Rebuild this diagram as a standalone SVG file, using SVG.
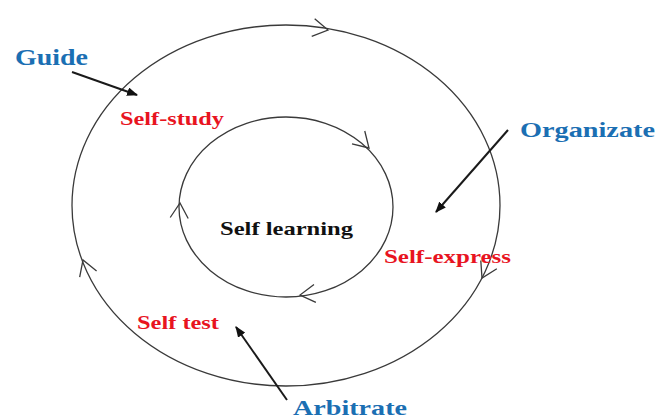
<svg xmlns="http://www.w3.org/2000/svg" xmlns:xlink="http://www.w3.org/1999/xlink" width="658" height="419" viewBox="0 0 658 419">
  <style>
    .ring { fill: none; stroke: #3a3a3a; stroke-width: 1.3; }
    .chev { fill: none; stroke: #3a3a3a; stroke-width: 1.3; stroke-linejoin: miter; }
    .ptr { fill: none; stroke: #1a1a1a; stroke-width: 2; marker-end: url(#head); }
    text { font-family: "Liberation Serif", "Times New Roman", serif; font-weight: bold; }
    .blue { fill: #1b6fb3; }
    .red { fill: #e8141f; }
    .black { fill: #111; }
  </style>
  <defs>
    <!-- open chevron pointing along +x, tip at origin -->
    <path id="chev" class="chev" d="M-15,-9 L0,0 L-15,9"/>
    <marker id="head" viewBox="0 0 10 8" refX="9" refY="4" markerWidth="5.5" markerHeight="4.5" orient="auto" markerUnits="strokeWidth">
      <path d="M0,0 L10,4 L0,8 Z" fill="#111"/>
    </marker>
  </defs>
  <rect width="658" height="419" fill="#fff"/>

  <g id="connectors">
    <!-- outer cycle -->
    <ellipse class="ring" cx="286" cy="205.5" rx="214" ry="180.5"/>
    <use xlink:href="#chev" transform="translate(328,30) rotate(9.5)"/>
    <use xlink:href="#chev" transform="translate(482,278) rotate(117)"/>
    <use xlink:href="#chev" transform="translate(83,260) rotate(-110)"/>
    <!-- inner cycle -->
    <ellipse class="ring" cx="286" cy="207" rx="107" ry="90"/>
    <use xlink:href="#chev" transform="translate(369,148) rotate(45)"/>
    <use xlink:href="#chev" transform="translate(300,295) rotate(174)"/>
    <use xlink:href="#chev" transform="translate(180,203) rotate(-87)"/>
    <!-- pointers -->
    <line class="ptr" x1="72" y1="72" x2="137" y2="95"/>
    <line class="ptr" x1="508" y1="130" x2="436" y2="212"/>
    <line class="ptr" x1="287" y1="400" x2="236" y2="327"/>
  </g>

  <g id="guide"><text class="blue" x="15" y="65" font-size="22.5" textLength="73" lengthAdjust="spacingAndGlyphs">Guide</text></g>
  <g id="self-study"><text class="red" x="120" y="125" font-size="19.5" textLength="104" lengthAdjust="spacingAndGlyphs">Self-study</text></g>
  <g id="organizate"><text class="blue" x="520" y="137" font-size="21.5" textLength="135" lengthAdjust="spacingAndGlyphs">Organizate</text></g>
  <g id="self-learning"><text class="black" x="220" y="235" font-size="19.5" textLength="133" lengthAdjust="spacingAndGlyphs">Self learning</text></g>
  <g id="self-express"><text class="red" x="384" y="263" font-size="19.5" textLength="127" lengthAdjust="spacingAndGlyphs">Self-express</text></g>
  <g id="self-test"><text class="red" x="137" y="329" font-size="19.5" textLength="82" lengthAdjust="spacingAndGlyphs">Self test</text></g>
  <g id="arbitrate"><text class="blue" x="293" y="415" font-size="22" textLength="114" lengthAdjust="spacingAndGlyphs">Arbitrate</text></g>
</svg>
